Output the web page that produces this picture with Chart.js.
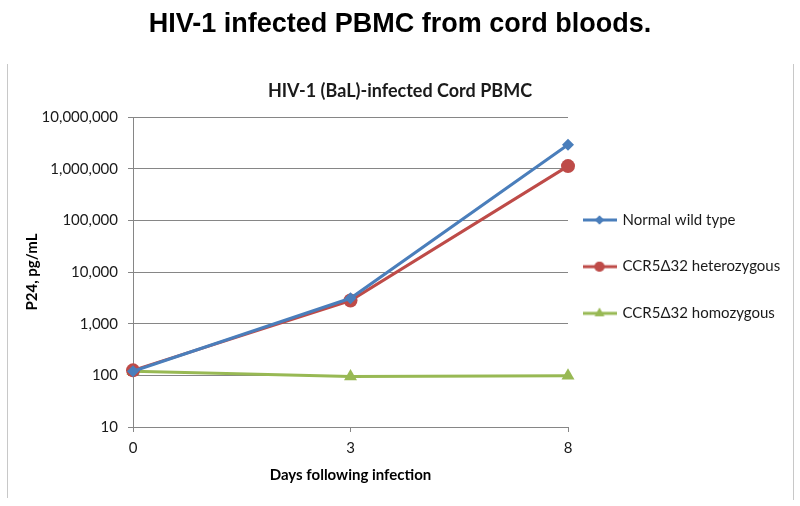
<!DOCTYPE html>
<html>
<head>
<meta charset="utf-8">
<script src="https://cdn.jsdelivr.net/npm/chart.js@4/dist/chart.umd.min.js"></script>
<style>
  html, body { margin: 0; padding: 0; background: #ffffff; }
  #wrap { position: relative; width: 800px; height: 506px; }
</style>
</head>
<body>
<div id="wrap"><canvas id="c" width="800" height="506"></canvas></div>
<script>
// ---- data ----
const days = ['0', '3', '8'];
const normalWildType = [120, 3100, 2900000];
const ccr5Heterozygous = [125, 2800, 1120000];
const ccr5Homozygous = [120, 95, 98];
const yTickValues = [10, 100, 1000, 10000, 100000, 1000000, 10000000];
const seriesNames = ['Normal wild type', 'CCR5\u039432 heterozygous', 'CCR5\u039432 homozygous'];

const BLUE = '#4A7EBB', RED = '#BE4B48', GREEN = '#98B954';
const FONT = 'Lato, "Open Sans", "Liberation Sans", sans-serif';

// legend geometry: make the legend exactly fill the space right of the plot area
const LEG_PAD = 16, LEG_ICON_W = 31, LEG_FONT = 15;
const mctx = document.createElement('canvas').getContext('2d');
mctx.font = LEG_FONT + 'px ' + FONT;
const maxTextW = Math.max(...seriesNames.map(s => mctx.measureText(s).width));
const legendNatural = LEG_PAD + LEG_ICON_W + LEG_FONT / 2 + maxTextW + 10;
const SIDE = Math.max(0, 232 - legendNatural);

function legendIcon(color, style, r) {
  const cv = document.createElement('canvas');
  cv.width = 34; cv.height = 14;
  const g = cv.getContext('2d');
  g.strokeStyle = color; g.lineWidth = 3;
  g.beginPath(); g.moveTo(0, 7); g.lineTo(34, 7); g.stroke();
  g.fillStyle = color;
  Chart.helpers.drawPoint(g, {pointStyle: style, radius: r, borderWidth: 0}, 17, 7);
  g.fill();
  return cv;
}

const framePlugin = {
  id: 'frame',
  beforeDraw(chart) {
    const g = chart.ctx;
    g.save();
    g.strokeStyle = '#C8C8C8';
    g.lineWidth = 1;
    g.beginPath();
    g.moveTo(7.5, 64); g.lineTo(7.5, 498);
    g.moveTo(793.5, 64); g.lineTo(793.5, 500);
    g.stroke();
    g.restore();
  }
};

const datasets = [
  { label: seriesNames[0], data: normalWildType, borderColor: BLUE, backgroundColor: BLUE,
    pointStyle: 'rectRot', pointRadius: 6, pointBorderWidth: 0 },
  { label: seriesNames[1], data: ccr5Heterozygous, borderColor: RED, backgroundColor: RED,
    pointStyle: 'circle', pointRadius: 7, pointBorderWidth: 0 },
  { label: seriesNames[2], data: ccr5Homozygous, borderColor: GREEN, backgroundColor: GREEN,
    pointStyle: 'triangle', pointRadius: 7.5, pointBorderWidth: 0 }
];
const icons = [legendIcon(BLUE, 'rectRot', 4.5), legendIcon(RED, 'circle', 5), legendIcon(GREEN, 'triangle', 5.5)];

new Chart(document.getElementById('c'), {
  type: 'line',
  data: { labels: days, datasets: datasets.map(d => Object.assign({ borderWidth: 3, tension: 0, fill: false }, d)) },
  plugins: [framePlugin],
  options: {
    responsive: false,
    animation: false,
    layout: { padding: { top: 0, right: SIDE, bottom: 0, left: SIDE } },
    plugins: {
      title: {
        display: true,
        text: 'HIV-1 infected PBMC from cord bloods.',
        color: '#000000',
        font: { family: '"Liberation Sans", Arial, sans-serif', size: 27, weight: 'bold', lineHeight: 1.2 },
        padding: { top: 8, bottom: 0 }
      },
      subtitle: {
        display: true,
        text: 'HIV-1 (BaL)-infected Cord PBMC',
        color: '#1a1a1a',
        font: { family: FONT, size: 18, weight: 'bold', lineHeight: 1.2 },
        padding: { top: 40, bottom: 15 }
      },
      legend: {
        position: 'right',
        align: 'center',
        fullSize: false,
        maxWidth: 232,
        title: { display: true, text: '', font: { size: 1, lineHeight: 1 }, padding: { top: 0, bottom: 4 } },
        labels: {
          usePointStyle: true,
          pointStyleWidth: LEG_ICON_W,
          padding: LEG_PAD,
          color: '#1a1a1a',
          font: { family: FONT, size: LEG_FONT, lineHeight: 2.047 },
          generateLabels(chart) {
            return chart.data.datasets.map((ds, i) => ({
              text: [ds.label],
              fillStyle: ds.borderColor,
              strokeStyle: ds.borderColor,
              lineWidth: 0,
              pointStyle: icons[i],
              hidden: false,
              datasetIndex: i,
              fontColor: '#1a1a1a'
            }));
          }
        }
      },
      tooltip: { enabled: false }
    },
    scales: {
      x: {
        type: 'category',
        offset: false,
        grid: { display: true, drawOnChartArea: false, drawTicks: true, tickLength: 5, color: '#868686' },
        border: { display: true, color: '#868686', width: 1 },
        ticks: { color: '#1a1a1a', font: { family: FONT, size: 15 }, padding: 7, maxRotation: 0 },
        title: {
          display: true, text: 'Days following infection', color: '#000000',
          font: { family: FONT, size: 15, weight: 'bold', lineHeight: 1.2 },
          padding: { top: 0, bottom: 22 }
        },
        afterFit(s) { s.height = 506 - 427; }
      },
      y: {
        type: 'logarithmic',
        min: 10,
        max: 10000000,
        grid: { display: true, drawTicks: true, tickLength: 5, color: '#868686' },
        border: { display: true, color: '#868686', width: 1 },
        ticks: {
          color: '#1a1a1a', font: { family: FONT, size: 15 }, padding: 10, autoSkip: false,
          callback: v => Number(v).toLocaleString('en-US')
        },
        afterBuildTicks(s) { s.ticks = yTickValues.map(v => ({ value: v })); },
        title: {
          display: true, text: 'P24, pg/mL', color: '#000000',
          font: { family: FONT, size: 15, weight: 'bold', lineHeight: 1.2 },
          padding: { top: 23 - SIDE, bottom: 0 }
        },
        afterFit(s) { s.width = 133 - SIDE; }
      }
    }
  }
});
</script>
</body>
</html>
